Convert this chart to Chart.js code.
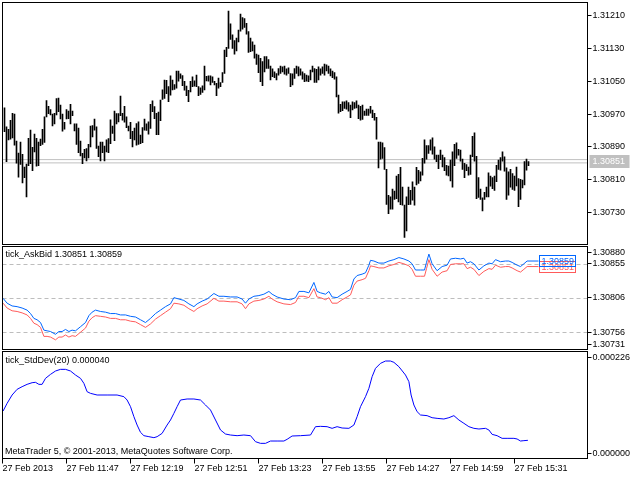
<!DOCTYPE html>
<html>
<head>
<meta charset="utf-8">
<title>tick_AskBid / tick_StdDev</title>
<script src="https://cdn.jsdelivr.net/npm/chart.js@4.4.1/dist/chart.umd.min.js"></script>
<style>
html,body{margin:0;padding:0;background:#fff;}
body{width:640px;height:480px;position:relative;overflow:hidden;}
canvas{position:absolute;left:0;}
</style>
</head>
<body>
<canvas id="pricePane" width="640" height="246" style="top:0px"></canvas>
<canvas id="askBidPane" width="640" height="104" style="top:246px"></canvas>
<canvas id="stdDevPane" width="640" height="129" style="top:351px"></canvas>
<script>
// ---------- DATA ----------
const barHighs = [
1.30985,1.30939,1.30933,1.30955,1.30972,1.30970,1.30904,1.30875,1.30902,1.30872,
1.30841,1.30848,1.30911,1.30931,1.30889,1.30921,1.30911,1.30902,1.30909,1.30933,
1.30963,1.31003,1.30989,1.30981,1.30970,1.30972,1.31008,1.31009,1.30992,1.30970,
1.30950,1.30981,1.30977,1.30994,1.30977,1.30946,1.30946,1.30936,1.30904,1.30874,
1.30884,1.30886,1.30896,1.30941,1.30942,1.30958,1.30939,1.30892,1.30902,1.30902,
1.30892,1.30907,1.30910,1.30956,1.30941,1.30977,1.30971,1.30971,1.31014,1.30972,
1.30989,1.30963,1.30941,1.30950,1.30928,1.30936,1.30947,1.30951,1.30919,1.30937,
1.30958,1.30946,1.30951,1.30994,1.31002,1.30988,1.30972,1.30975,1.31004,1.31029,
1.31053,1.31052,1.31037,1.31063,1.31053,1.31042,1.31075,1.31075,1.31068,1.31064,
1.31050,1.31038,1.31028,1.31050,1.31061,1.31051,1.31065,1.31037,1.31034,1.31039,
1.31087,1.31062,1.31063,1.31063,1.31061,1.31050,1.31045,1.31058,1.31047,1.31071,
1.31126,1.31133,1.31221,1.31190,1.31163,1.31149,1.31155,1.31175,1.31214,1.31205,
1.31203,1.31191,1.31171,1.31155,1.31146,1.31138,1.31116,1.31114,1.31106,1.31098,
1.31110,1.31110,1.31103,1.31087,1.31080,1.31073,1.31069,1.31081,1.31087,1.31085,
1.31087,1.31080,1.31083,1.31069,1.31068,1.31081,1.31087,1.31085,1.31080,1.31073,
1.31069,1.31065,1.31063,1.31077,1.31087,1.31081,1.31079,1.31085,1.31080,1.31085,
1.31092,1.31090,1.31087,1.31080,1.31075,1.31071,1.31061,1.31016,1.30994,1.31000,
1.31000,1.31002,1.30998,1.30992,1.31000,1.30998,1.31002,1.30992,1.30989,1.30992,
1.30977,1.30982,1.30982,1.30989,1.30980,1.30972,1.30962,1.30902,1.30902,1.30900,
1.30888,1.30835,1.30772,1.30768,1.30787,1.30782,1.30819,1.30823,1.30840,1.30792,
1.30748,1.30768,1.30792,1.30784,1.30805,1.30792,1.30840,1.30833,1.30829,1.30862,
1.30907,1.30893,1.30893,1.30907,1.30912,1.30890,1.30870,1.30870,1.30882,1.30870,
1.30864,1.30845,1.30843,1.30858,1.30878,1.30896,1.30900,1.30884,1.30882,1.30860,
1.30850,1.30847,1.30841,1.30870,1.30916,1.30924,1.30867,1.30815,1.30787,1.30766,
1.30779,1.30792,1.30827,1.30819,1.30815,1.30819,1.30845,1.30858,1.30864,1.30878,
1.30866,1.30839,1.30829,1.30835,1.30825,1.30819,1.30841,1.30813,1.30811,1.30809,
1.30854,1.30860,1.30854];
const barLows = [
1.30927,1.30854,1.30907,1.30909,1.30912,1.30894,1.30850,1.30816,1.30847,1.30802,
1.30815,1.30768,1.30844,1.30849,1.30832,1.30878,1.30843,1.30844,1.30893,1.30896,
1.30901,1.30963,1.30971,1.30968,1.30941,1.30946,1.30968,1.30976,1.30958,1.30928,
1.30933,1.30958,1.30959,1.30946,1.30966,1.30929,1.30896,1.30876,1.30868,1.30849,
1.30863,1.30856,1.30863,1.30890,1.30914,1.30931,1.30886,1.30866,1.30856,1.30876,
1.30856,1.30878,1.30876,1.30898,1.30923,1.30905,1.30946,1.30951,1.30966,1.30955,
1.30950,1.30937,1.30929,1.30910,1.30890,1.30907,1.30894,1.30896,1.30898,1.30900,
1.30931,1.30930,1.30921,1.30935,1.30976,1.30959,1.30920,1.30920,1.30954,1.31006,
1.31008,1.31020,1.31000,1.31016,1.31029,1.31030,1.31033,1.31050,1.31057,1.31039,
1.31028,1.31015,1.31000,1.31024,1.31037,1.31038,1.31037,1.31015,1.31018,1.31023,
1.31029,1.31051,1.31050,1.31041,1.31047,1.31041,1.31015,1.31033,1.31037,1.31047,
1.31069,1.31110,1.31130,1.31152,1.31130,1.31116,1.31124,1.31146,1.31172,1.31177,
1.31181,1.31165,1.31120,1.31122,1.31124,1.31106,1.31091,1.31071,1.31049,1.31039,
1.31073,1.31081,1.31081,1.31053,1.31061,1.31059,1.31053,1.31065,1.31069,1.31073,
1.31067,1.31065,1.31069,1.31037,1.31041,1.31057,1.31069,1.31063,1.31065,1.31055,
1.31049,1.31050,1.31049,1.31053,1.31073,1.31047,1.31047,1.31053,1.31065,1.31069,
1.31065,1.31075,1.31069,1.31063,1.31059,1.31055,1.31012,1.30972,1.30976,1.30978,
1.30984,1.30982,1.30977,1.30961,1.30980,1.30984,1.30985,1.30959,1.30955,1.30957,
1.30967,1.30967,1.30967,1.30972,1.30961,1.30955,1.30909,1.30839,1.30860,1.30862,
1.30835,1.30750,1.30727,1.30738,1.30738,1.30762,1.30764,1.30756,1.30749,1.30748,
1.30669,1.30685,1.30749,1.30750,1.30760,1.30748,1.30797,1.30801,1.30807,1.30821,
1.30850,1.30860,1.30874,1.30882,1.30872,1.30860,1.30854,1.30837,1.30859,1.30841,
1.30832,1.30821,1.30819,1.30807,1.30792,1.30844,1.30862,1.30870,1.30855,1.30835,
1.30815,1.30832,1.30821,1.30823,1.30866,1.30855,1.30764,1.30767,1.30762,1.30734,
1.30762,1.30768,1.30768,1.30794,1.30788,1.30784,1.30805,1.30835,1.30833,1.30855,
1.30831,1.30762,1.30772,1.30792,1.30786,1.30784,1.30795,1.30744,1.30762,1.30790,
1.30797,1.30833,1.30844];
const priceTicks = [1.30730,1.30810,1.30890,1.30970,1.31050,1.31130,1.31210];
const lastBid = 1.30851;
const lastAsk = 1.30859;

const tickPos = [
-0.7,1.3,3.8,6.3,8.8,11.3,13,14.7,16.3,18,
19.7,21.3,23,25.5,27.2,28.8,30.5,32.2,33.8,35.5,
38,40.5,42.2,43.8,45.5,48,50.5,53,55.5,58,
60.5,63,65.5,68,70.5,73,75.5,78,80.5,83,
84.7,87.2,89.7,92.2,94.7,96.3,98.8,101.3,104.7,107.2,
109.7,113,116.3,118.8,120.5,122.2,124.7,127.2,129.7,132.2,
133.8,136.3,139.7,143,145.5,147.2,149.7,152.2,154.7,156.3,
158,160.5,162.2,163.8,166.3,168.8,171.3,173,174.7,176.3,
178.8,180.5,182.2,183,184.7,187.2,189.7,192.2,194.7,197.2,
199.7,202.2,203.8,205.5,208,210,211,212.2,213.8,216.3,
218.8,221.3,223,225.5,228,229.7,231.3,233,234.7,237.2,
239.7,242.2,243.8,245.5,248,250.5,252.2,253.8,256.3,258,
259.7,261.3,267];
const askVals = [
1.30805,1.30798,1.30794,1.30793,1.30791,1.30788,1.30783,1.30776,1.30774,1.30770,
1.30759,1.30758,1.30757,1.30753,1.30757,1.30757,1.30760,1.30757,1.30759,1.30758,
1.30764,1.30770,1.30780,1.30785,1.30788,1.30786,1.30785,1.30783,1.30783,1.30781,
1.30781,1.30779,1.30778,1.30774,1.30770,1.30776,1.30783,1.30788,1.30793,1.30797,
1.30806,1.30804,1.30802,1.30797,1.30793,1.30797,1.30801,1.30804,1.30812,1.30808,
1.30808,1.30807,1.30807,1.30804,1.30798,1.30804,1.30808,1.30809,1.30811,1.30815,
1.30811,1.30807,1.30804,1.30803,1.30806,1.30815,1.30815,1.30813,1.30828,1.30815,
1.30813,1.30811,1.30815,1.30807,1.30806,1.30811,1.30815,1.30818,1.30833,1.30838,
1.30840,1.30842,1.30853,1.30860,1.30859,1.30856,1.30856,1.30859,1.30861,1.30864,
1.30862,1.30859,1.30855,1.30846,1.30846,1.30846,1.30857,1.30869,1.30855,1.30845,
1.30851,1.30853,1.30862,1.30863,1.30862,1.30863,1.30856,1.30858,1.30855,1.30846,
1.30852,1.30856,1.30855,1.30861,1.30858,1.30859,1.30859,1.30857,1.30853,1.30851,
1.30855,1.30859,1.30859];
const bidVals = [
1.30798,1.30791,1.30787,1.30786,1.30784,1.30781,1.30776,1.30769,1.30767,1.30763,
1.30750,1.30750,1.30749,1.30745,1.30749,1.30749,1.30752,1.30749,1.30751,1.30750,
1.30756,1.30762,1.30772,1.30777,1.30780,1.30779,1.30778,1.30776,1.30776,1.30774,
1.30774,1.30772,1.30771,1.30767,1.30763,1.30768,1.30775,1.30780,1.30785,1.30790,
1.30798,1.30797,1.30795,1.30790,1.30786,1.30790,1.30794,1.30797,1.30805,1.30801,
1.30801,1.30800,1.30800,1.30797,1.30790,1.30797,1.30801,1.30802,1.30804,1.30808,
1.30804,1.30800,1.30797,1.30796,1.30799,1.30808,1.30808,1.30806,1.30819,1.30807,
1.30806,1.30803,1.30806,1.30798,1.30798,1.30803,1.30807,1.30810,1.30824,1.30830,
1.30832,1.30834,1.30845,1.30852,1.30851,1.30849,1.30849,1.30852,1.30854,1.30857,
1.30855,1.30852,1.30847,1.30837,1.30837,1.30837,1.30848,1.30861,1.30847,1.30837,
1.30843,1.30845,1.30854,1.30855,1.30855,1.30855,1.30848,1.30850,1.30847,1.30838,
1.30844,1.30848,1.30847,1.30853,1.30850,1.30851,1.30851,1.30849,1.30845,1.30843,
1.30847,1.30851,1.30851];
const askBidTicks = [1.30756,1.30806,1.30855];
const askBidEdges = [1.30880,1.30731];

const sdPos = [
-0.7,1.3,3.8,6.3,8.8,11.3,13.8,15.5,17.2,18.8,
20.5,23,25.5,28,30.5,33,35.5,38,39.7,41.3,
43,46.3,51.3,56.3,59.7,61.3,63,64.7,66.3,68,
69.7,72.2,74.7,76.3,78.8,81.3,83,84.7,86.3,88,
91.3,94.7,98,100.5,103,105.5,108,110.5,113,116.3,
119.7,123,125.5,128,130.5,133,136.3,139.7,141.3,143.8,
148,153,155.5,158,161.3,163.8,166.3,168.8,172.2,174.7,
176.3,178,180.5,182.2,183.8,185.5,188,190.5,193,194.7,
197.2,200.5,202.2,203.3,204.7,206.3,208,211.3,213.8,216.3,
219.7,222.2,224.7,227.2,229.7,232.2,234.7,237.2,240.5,242.2,
243.8,246.3,248.8,251.3,254.7,256.3,258,259.7,261.7];
const sdVals = [
100.3e-6,116.5e-6,134.1e-6,146.1e-6,151.7e-6,156.6e-6,160.1e-6,160.9e-6,156.6e-6,156.6e-6,
169.3e-6,177.7e-6,184.8e-6,188.3e-6,188.3e-6,184.8e-6,176.3e-6,169.3e-6,158.7e-6,141.1e-6,
137.6e-6,134.1e-6,134.1e-6,134.1e-6,130.6e-6,123.5e-6,109.5e-6,88.3e-6,70.7e-6,55.3e-6,
48.2e-6,46.1e-6,44.0e-6,46.1e-6,53.1e-6,70.7e-6,81.3e-6,95.4e-6,109.5e-6,123.5e-6,
125.7e-6,125.7e-6,123.5e-6,113.0e-6,102.4e-6,81.3e-6,60.2e-6,51.7e-6,49.6e-6,48.2e-6,
49.6e-6,48.2e-6,35.5e-6,32.0e-6,32.0e-6,36.9e-6,36.9e-6,36.9e-6,40.5e-6,47.5e-6,
48.2e-6,49.6e-6,67.2e-6,67.9e-6,67.2e-6,63.7e-6,67.2e-6,64.4e-6,63.7e-6,70.7e-6,
88.3e-6,109.5e-6,130.6e-6,148.2e-6,172.8e-6,190.4e-6,201.0e-6,205.9e-6,205.9e-6,203.1e-6,
193.9e-6,176.3e-6,162.3e-6,134.1e-6,113.0e-6,98.9e-6,91.9e-6,90.5e-6,86.2e-6,84.8e-6,
83.4e-6,86.2e-6,90.5e-6,81.3e-6,74.3e-6,67.2e-6,63.7e-6,62.3e-6,63.7e-6,60.2e-6,
51.0e-6,48.2e-6,42.6e-6,42.6e-6,42.6e-6,41.2e-6,36.9e-6,37.7e-6,38.4e-6];
const sdEdges = [0.000226, 0.000000];
const sdLast = 0.000040;

const timeTickPos = [-1,31,63,95,127,159,191,223,255];
const timeLabels = ["27 Feb 2013","27 Feb 11:47","27 Feb 12:19","27 Feb 12:51","27 Feb 13:23",
                    "27 Feb 13:55","27 Feb 14:27","27 Feb 14:59","27 Feb 15:31"];

// ---------- STYLE / HELPERS ----------
const FAMILY = '"Liberation Sans", Arial, sans-serif';
const FONT = {family: FAMILY, size: 9};
const FONT_CSS = '9px ' + FAMILY;
const X_MIN = -1, X_MAX = 291.5;
const AXIS_W = 52.5;

function fitRightAxis(s) { s.width = AXIS_W; s.paddingTop = 0; s.paddingBottom = 0; }

const framePlugin = {
  id: 'frame',
  afterDraw(chart) {
    const a = chart.chartArea, ctx = chart.ctx;
    ctx.save();
    ctx.strokeStyle = '#000'; ctx.lineWidth = 1;
    ctx.strokeRect(a.left, a.top, a.right - a.left, a.bottom - a.top);
    ctx.restore();
  }
};
function edgeLabelsPlugin(values, digits) {
  return {
    id: 'edgeLabels',
    afterDraw(chart) {
      const s = chart.scales.y, a = chart.chartArea, ctx = chart.ctx;
      ctx.save();
      ctx.font = FONT_CSS; ctx.fillStyle = '#000'; ctx.strokeStyle = '#000'; ctx.lineWidth = 1;
      ctx.textBaseline = 'middle'; ctx.textAlign = 'left';
      values.forEach(v => {
        let y = s.getPixelForValue(v);
        y = Math.min(Math.max(y, a.top + 5.5), a.bottom - 5.5);
        const yy = Math.round(y) + 0.5;
        ctx.beginPath(); ctx.moveTo(a.right, yy); ctx.lineTo(a.right + 4, yy); ctx.stroke();
        ctx.fillText(v.toFixed(digits), a.right + 5, yy);
      });
      ctx.restore();
    }
  };
}
function textPlugin(items) {
  return {
    id: 'texts',
    afterDraw(chart) {
      const a = chart.chartArea, ctx = chart.ctx;
      ctx.save();
      ctx.font = FONT_CSS; ctx.fillStyle = '#000'; ctx.textBaseline = 'middle'; ctx.textAlign = 'left';
      items.forEach(it => {
        const y = it.fromBottom ? a.bottom - it.dy : a.top + it.dy;
        ctx.fillText(it.text, a.left + it.dx, y);
      });
      ctx.restore();
    }
  };
}
const noPlugins = {legend: {display: false}, tooltip: {enabled: false}, title: {display: false}};
const hiddenX = {type: 'linear', min: X_MIN, max: X_MAX, offset: false, display: false, grid: {offset: false}};

// ---------- PANE 1 : price bars ----------
const barData = barHighs.map((h, i) => ({x: i, y: [barLows[i], h]}));
const priceTagPlugin = {
  id: 'priceTag',
  afterDraw(chart) {
    const s = chart.scales.y, a = chart.chartArea, ctx = chart.ctx;
    const y = s.getPixelForValue(lastBid) - 2;
    ctx.save();
    ctx.fillStyle = '#c0c0c0';
    ctx.fillRect(a.right + 2, Math.round(y) - 6, 40, 13);
    ctx.fillStyle = '#fff'; ctx.font = FONT_CSS; ctx.textBaseline = 'middle'; ctx.textAlign = 'left';
    ctx.fillText(lastBid.toFixed(5), a.right + 5, Math.round(y) + 0.5);
    ctx.restore();
  }
};
new Chart(document.getElementById('pricePane'), {
  type: 'bar',
  data: {
    datasets: [
      {type: 'line', data: [{x: X_MIN, y: lastAsk}, {x: X_MAX, y: lastAsk}], borderColor: '#c0c0c0', borderWidth: 1, pointRadius: 0, order: 3},
      {type: 'line', data: [{x: X_MIN, y: lastBid}, {x: X_MAX, y: lastBid}], borderColor: '#c0c0c0', borderWidth: 1, pointRadius: 0, order: 2},
      {type: 'bar', data: barData, backgroundColor: '#000', borderWidth: 0, barThickness: 1, order: 1}
    ]
  },
  options: {
    responsive: false, animation: false, events: [],
    layout: {padding: {left: 2.5, top: 2.5, bottom: 1.5, right: 0}},
    plugins: noPlugins,
    scales: {
      x: hiddenX,
      y: {
        position: 'right', min: 1.30652, max: 1.31242,
        afterFit: fitRightAxis,
        afterBuildTicks(s) { s.ticks = priceTicks.map(v => ({value: v})); },
        ticks: {font: FONT, color: '#000', padding: 1, callback: v => Number(v).toFixed(5)},
        grid: {drawOnChartArea: false, color: '#000', tickLength: 4},
        border: {display: false}
      }
    }
  },
  plugins: [framePlugin, priceTagPlugin]
});

// ---------- PANE 2 : tick_AskBid ----------
const askPts = tickPos.map((x, i) => ({x: x, y: askVals[i]}));
const bidPts = tickPos.map((x, i) => ({x: x, y: bidVals[i]}));
const dashedGridPlugin = {
  id: 'dashedGrid',
  beforeDatasetsDraw(chart) {
    const s = chart.scales.y, a = chart.chartArea, ctx = chart.ctx;
    ctx.save();
    ctx.strokeStyle = '#bdbdbd'; ctx.lineWidth = 1; ctx.setLineDash([4, 3]);
    askBidTicks.forEach(v => {
      const y = Math.round(s.getPixelForValue(v)) + 0.5;
      ctx.beginPath(); ctx.moveTo(a.left, y); ctx.lineTo(a.right, y); ctx.stroke();
    });
    ctx.restore();
  }
};
const askBidTagPlugin = {
  id: 'askBidTags',
  afterDraw(chart) {
    const s = chart.scales.y, x = chart.scales.x, ctx = chart.ctx;
    const left = Math.round(x.getPixelForValue(tickPos[tickPos.length - 1])) + 0.5;
    const tags = [{v: lastBid, c: '#ff5a5a'}, {v: lastAsk, c: '#0066ff'}];
    ctx.save();
    ctx.font = FONT_CSS; ctx.textBaseline = 'middle'; ctx.textAlign = 'left'; ctx.lineWidth = 1;
    tags.forEach(t => {
      const yc = Math.round(s.getPixelForValue(t.v));
      ctx.strokeStyle = t.c; ctx.fillStyle = t.c;
      ctx.strokeRect(left, yc - 5.5, 36, 11);
      ctx.fillText(t.v.toFixed(5), left + 2, yc + 0.5);
    });
    ctx.restore();
  }
};
new Chart(document.getElementById('askBidPane'), {
  type: 'line',
  data: {
    datasets: [
      {data: bidPts, borderColor: '#ff5a5a', borderWidth: 1, pointRadius: 0, tension: 0},
      {data: askPts, borderColor: '#0066ff', borderWidth: 1, pointRadius: 0, tension: 0}
    ]
  },
  options: {
    responsive: false, animation: false, events: [],
    layout: {padding: {left: 2.5, top: 0.5, bottom: 0.5, right: 0}},
    plugins: noPlugins,
    scales: {
      x: hiddenX,
      y: {
        position: 'right', min: askBidEdges[1], max: askBidEdges[0],
        afterFit: fitRightAxis,
        afterBuildTicks(s) { s.ticks = askBidTicks.map(v => ({value: v})); },
        ticks: {font: FONT, color: '#000', padding: 1, callback: v => Number(v).toFixed(5)},
        grid: {drawOnChartArea: false, color: '#000', tickLength: 4},
        border: {display: false}
      }
    }
  },
  plugins: [dashedGridPlugin, framePlugin, edgeLabelsPlugin(askBidEdges, 5), askBidTagPlugin,
            textPlugin([{text: 'tick_AskBid ' + lastBid.toFixed(5) + ' ' + lastAsk.toFixed(5), dx: 3, dy: 8.5}])]
});

// ---------- PANE 3 : tick_StdDev(20) ----------
const sdPts = sdPos.map((x, i) => ({x: x, y: sdVals[i]}));
new Chart(document.getElementById('stdDevPane'), {
  type: 'line',
  data: {
    datasets: [
      {data: sdPts, borderColor: '#0000ff', borderWidth: 1, pointRadius: 0, tension: 0}
    ]
  },
  options: {
    responsive: false, animation: false, events: [],
    layout: {padding: {left: 2.5, top: 0.5, bottom: 0, right: AXIS_W}},
    plugins: noPlugins,
    scales: {
      x: {
        type: 'linear', min: X_MIN, max: X_MAX, offset: false, position: 'bottom',
        afterFit(s) { s.height = 21.5; s.paddingLeft = 0; s.paddingRight = 0; },
        afterBuildTicks(s) { s.ticks = timeTickPos.map(v => ({value: v})); },
        ticks: {autoSkip: false, maxRotation: 0, minRotation: 0, align: 'start', padding: 0,
                color: '#000', font: FONT, callback: (v, i) => timeLabels[i]},
        grid: {drawOnChartArea: false, color: '#000', tickLength: 5, offset: false},
        border: {display: false}
      },
      y: {display: false, min: sdEdges[1], max: sdEdges[0]}
    }
  },
  plugins: [framePlugin, edgeLabelsPlugin(sdEdges, 6),
            textPlugin([
              {text: 'tick_StdDev(20) ' + sdLast.toFixed(6), dx: 3, dy: 9},
              {text: 'MetaTrader 5, \u00A9 2001-2013, MetaQuotes Software Corp.', dx: 2.5, dy: 6.5, fromBottom: true}
            ])]
});
</script>
</body>
</html>
